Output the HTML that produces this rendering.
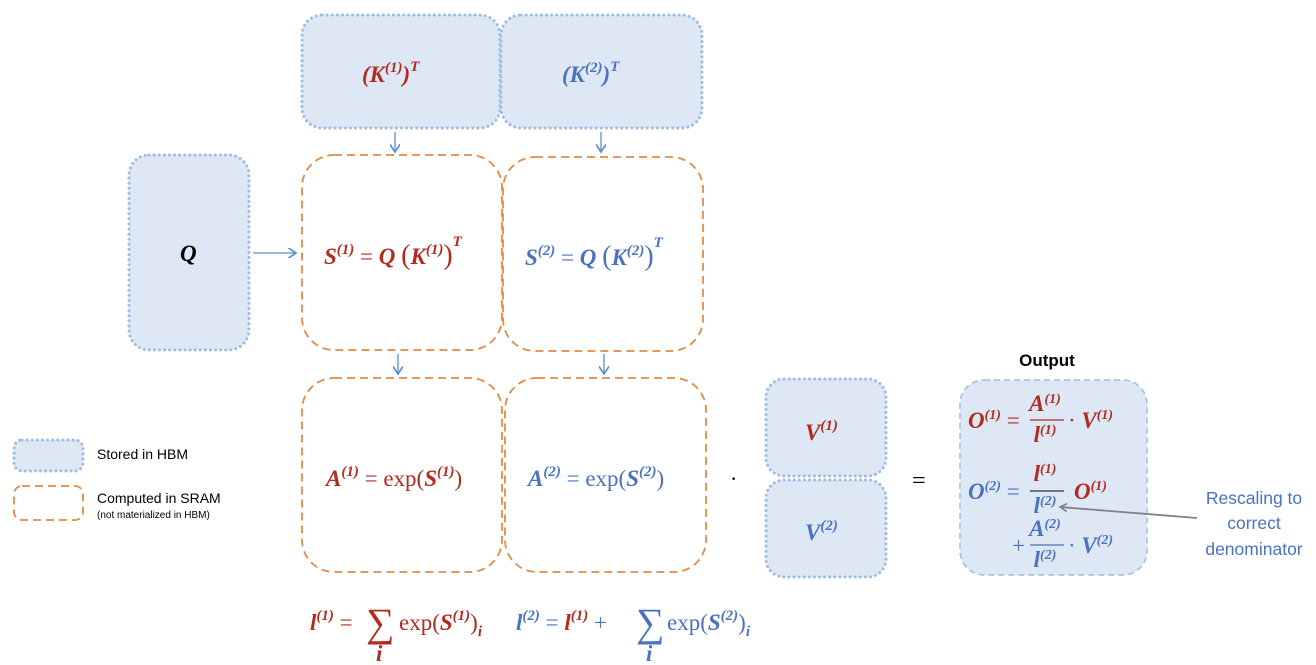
<!DOCTYPE html>
<html><head><meta charset="utf-8"><style>
body{margin:0;background:#fff}
svg{display:block}
.m{font-family:"Liberation Serif",serif;font-weight:bold;font-style:italic;font-size:23px}
.r{fill:#b22a20}.b{fill:#4a72c0}
.n{font-style:normal;font-weight:normal}
.s{font-family:"Liberation Sans",sans-serif}
</style></head><body>
<svg width="1316" height="665" viewBox="0 0 1316 665">
<defs><marker id="ah" markerWidth="8" markerHeight="8" refX="6" refY="4" orient="auto"><path d="M0,0 L6,4 L0,8" fill="none" stroke="#5b8fd0" stroke-width="1.3"/></marker>
<marker id="ag" markerWidth="10" markerHeight="10" refX="8" refY="5" orient="auto" markerUnits="userSpaceOnUse"><path d="M1,1 L8,5 L1,9" fill="none" stroke="#808080" stroke-width="1.6"/></marker></defs>
<g fill="#dee7f4" stroke="#9dbde6" stroke-width="3" stroke-dasharray="0.1 5" stroke-linecap="round">
<rect x="302" y="15" width="198" height="113" rx="20"/>
<rect x="501" y="15" width="201" height="113" rx="20"/>
<rect x="129" y="155" width="120" height="195" rx="20"/>
<rect x="766" y="379" width="120" height="97" rx="18"/>
<rect x="766" y="480" width="120" height="97" rx="18"/>
<rect x="14" y="440" width="69" height="31" rx="8"/>
</g>
<rect x="960" y="380" width="187" height="195" rx="24" fill="#dee7f4" stroke="#9dbde6" stroke-width="1.5" stroke-dasharray="6 4"/>
<g fill="none" stroke="#e58a44" stroke-width="1.8" stroke-dasharray="8 5">
<rect x="302" y="155" width="200" height="195" rx="32"/>
<rect x="503" y="157" width="200" height="194" rx="32"/>
<rect x="302" y="378" width="200" height="194" rx="32"/>
<rect x="505" y="378" width="201" height="194" rx="32"/>
<rect x="14" y="486" width="69" height="34" rx="8"/>
</g>
<g stroke="#5b8fd0" stroke-width="1.3" marker-end="url(#ah)">
<line x1="395" y1="132" x2="395" y2="152"/>
<line x1="601" y1="132" x2="601" y2="152"/>
<line x1="398" y1="354" x2="398" y2="374"/>
<line x1="604" y1="354" x2="604" y2="374"/>
<line x1="253" y1="253" x2="296" y2="253"/>
</g>
<line x1="1197" y1="518" x2="1060" y2="507" stroke="#808080" stroke-width="1.8" marker-end="url(#ag)"/>
<text class="m r" x="362" y="82">(K<tspan font-size="15" dy="-10">(1)</tspan><tspan dy="10">)</tspan><tspan font-size="15" dy="-11">T</tspan></text>
<text class="m b" x="562" y="82">(K<tspan font-size="15" dy="-10">(2)</tspan><tspan dy="10">)</tspan><tspan font-size="15" dy="-11">T</tspan></text>
<text class="m" x="180" y="261" fill="#000">Q</text>
<text class="m r" x="324" y="264">S<tspan font-size="15" dy="-10">(1)</tspan><tspan class="n" dy="10"> = </tspan>Q <tspan class="n" font-size="28">(</tspan>K<tspan font-size="15" dy="-10">(1)</tspan><tspan class="n" font-size="28" dy="10">)</tspan><tspan font-size="15" dy="-18">T</tspan></text>
<text class="m b" x="525" y="265">S<tspan font-size="15" dy="-10">(2)</tspan><tspan class="n" dy="10"> = </tspan>Q <tspan class="n" font-size="28">(</tspan>K<tspan font-size="15" dy="-10">(2)</tspan><tspan class="n" font-size="28" dy="10">)</tspan><tspan font-size="15" dy="-18">T</tspan></text>
<text class="m r" x="326" y="486">A<tspan font-size="15" dy="-10">(1)</tspan><tspan class="n" dy="10"> = exp(</tspan>S<tspan font-size="15" dy="-10">(1)</tspan><tspan class="n" dy="10">)</tspan></text>
<text class="m b" x="528" y="486">A<tspan font-size="15" dy="-10">(2)</tspan><tspan class="n" dy="10"> = exp(</tspan>S<tspan font-size="15" dy="-10">(2)</tspan><tspan class="n" dy="10">)</tspan></text>
<text x="730" y="486" font-size="22" fill="#000">·</text>
<text x="912" y="488" font-size="24" fill="#000" font-family="Liberation Serif">=</text>
<text class="m r" x="805" y="440">V<tspan font-size="15" dy="-10">(1)</tspan></text>
<text class="m b" x="805" y="540">V<tspan font-size="15" dy="-10">(2)</tspan></text>
<text class="s" x="1047" y="366" font-size="17" font-weight="bold" text-anchor="middle">Output</text>
<g class="m" font-size="20">
<text class="r" x="968" y="428">O<tspan font-size="14" dy="-9">(1)</tspan><tspan class="n" dy="9"> = </tspan></text>
<text class="r" x="1045" y="411" text-anchor="middle">A<tspan font-size="14" dy="-8">(1)</tspan></text>
<line x1="1030" y1="420" x2="1064" y2="420" stroke="#b22a20" stroke-width="1.3"/>
<text class="r" x="1045" y="442" text-anchor="middle">l<tspan font-size="14" dy="-8">(1)</tspan></text>
<text class="r" x="1068" y="428"><tspan class="n">· </tspan>V<tspan font-size="14" dy="-9">(1)</tspan></text>
<text class="b" x="968" y="499">O<tspan font-size="14" dy="-9">(2)</tspan><tspan class="n" dy="9"> = </tspan></text>
<text class="r" x="1045" y="481" text-anchor="middle">l<tspan font-size="14" dy="-8">(1)</tspan></text>
<line x1="1030" y1="491" x2="1064" y2="491" stroke="#333" stroke-width="1.3"/>
<text class="b" x="1045" y="513" text-anchor="middle">l<tspan font-size="14" dy="-8">(2)</tspan></text>
<text class="r" x="1074" y="499">O<tspan font-size="14" dy="-9">(1)</tspan></text>
<text class="b" x="1012" y="553"><tspan class="n">+</tspan></text>
<text class="b" x="1045" y="536" text-anchor="middle">A<tspan font-size="14" dy="-8">(2)</tspan></text>
<line x1="1030" y1="545" x2="1064" y2="545" stroke="#4a72c0" stroke-width="1.3"/>
<text class="b" x="1045" y="567" text-anchor="middle">l<tspan font-size="14" dy="-8">(2)</tspan></text>
<text class="b" x="1068" y="553"><tspan class="n">· </tspan>V<tspan font-size="14" dy="-9">(2)</tspan></text>
</g>
<g class="s" fill="#4a72c0" font-size="17.5" text-anchor="middle">
<text x="1254" y="504">Rescaling to</text>
<text x="1254" y="529">correct</text>
<text x="1254" y="555">denominator</text>
</g>
<g class="s" font-size="14" fill="#000">
<text x="97" y="459">Stored in HBM</text>
<text x="97" y="503">Computed in SRAM</text>
<text x="97" y="518" font-size="10">(not materialized in HBM)</text>
</g>
<text class="m r" x="310" y="630">l<tspan font-size="15" dy="-10">(1)</tspan><tspan class="n" dy="10"> = </tspan></text>
<text class="n r" x="366" y="636" font-family="Liberation Serif" font-size="40">∑</text>
<text class="m r" x="376" y="661" font-size="15">i</text>
<text class="m r" x="399" y="630"><tspan class="n">exp(</tspan>S<tspan font-size="15" dy="-10">(1)</tspan><tspan class="n" dy="10">)</tspan><tspan font-size="15" dy="6">i</tspan></text>
<text class="m b" x="516" y="630">l<tspan font-size="15" dy="-10">(2)</tspan><tspan class="n" dy="10"> = </tspan><tspan class="r">l</tspan><tspan class="r" font-size="15" dy="-10">(1)</tspan><tspan class="n" dy="10"> + </tspan></text>
<text class="n b" x="636" y="636" font-family="Liberation Serif" font-size="40">∑</text>
<text class="m b" x="646" y="661" font-size="15">i</text>
<text class="m b" x="667" y="630"><tspan class="n">exp(</tspan>S<tspan font-size="15" dy="-10">(2)</tspan><tspan class="n" dy="10">)</tspan><tspan font-size="15" dy="6">i</tspan></text>
</svg>
</body></html>
